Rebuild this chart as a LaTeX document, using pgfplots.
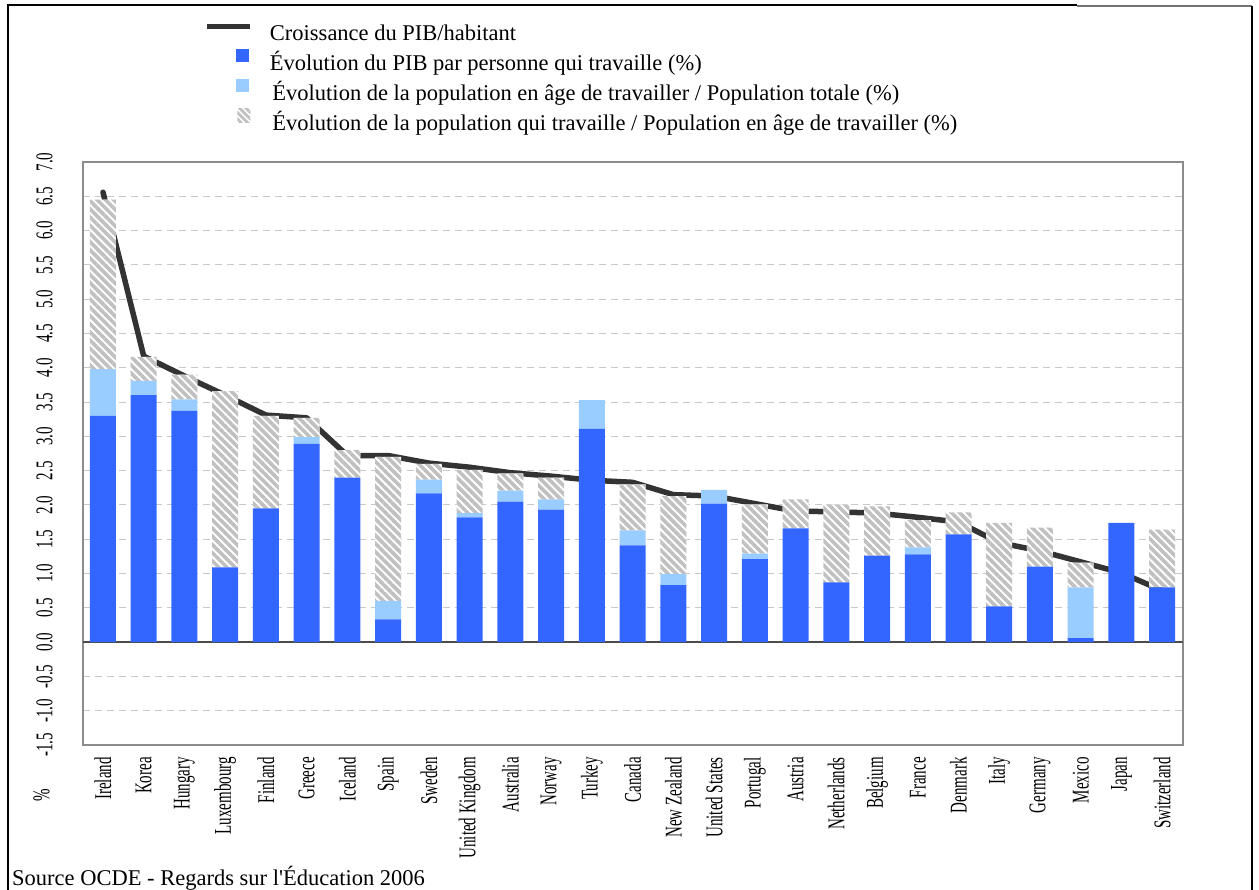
\documentclass[border=0pt]{standalone}
\usepackage{pgfplots}
\pgfplotsset{compat=1.18}
\usepackage{pgfplotstable}
\usetikzlibrary{patterns.meta}
\usepackage{fontspec}
\setmainfont{Liberation Serif}[Ligatures=TeXOff]
\newfontfamily\condfont[FakeStretch=0.625]{Liberation Serif}
\newcommand\tickfont{\condfont\fontsize{24bp}{26bp}\selectfont}
\newcommand\legfont{\fontsize{22.5bp}{27bp}\selectfont}

\definecolor{cBlue}{HTML}{3366FF}
\definecolor{cLight}{HTML}{99CCFF}
\definecolor{cHatch}{HTML}{C0C0C0}
\definecolor{cLine}{HTML}{333333}
\definecolor{cGrid}{HTML}{C8C8C8}
\definecolor{cFrame}{HTML}{8C8C8C}

\pgfplotsset{
  hatch/.style={fill=white, postaction={pattern={Lines[angle=-45,distance=5.8bp,line width=3.6bp]}, pattern color=cHatch}},
  lineleg/.style={legend image code/.code={\path[draw=none, fill=none] (0bp,0bp) -- (43bp,0bp); \draw[##1, line cap=butt] (0bp,6.7bp) -- (43bp,6.7bp);}},
  boxleg/.style={legend image code/.code={\path[draw=none, fill=none] (0bp,0bp) -- (43bp,0bp); \fill[##1, draw=none] (29bp,1.5bp) rectangle (42bp,14.5bp);}},
  hatchleg/.style={legend image code/.code={\path[draw=none, fill=none] (0bp,0bp) -- (43bp,0bp);
    \fill[white, draw=none] (30bp,0.5bp) rectangle (43bp,14.5bp);
    \fill[draw=none, pattern={Lines[angle=-45,distance=4.6bp,line width=2.8bp]}, pattern color=cHatch] (30bp,0.5bp) rectangle (43bp,14.5bp);}},
}

% bp/lp/hp: positive parts (blue, light blue, hatched), ln/hn: negative parts
\pgfplotstableread{
x  bp   lp   hp   ln     hn     gdp
0  3.30 0.68 2.47  0      0     6.56
1  3.60 0.21 0.35  0      0     4.17
2  3.37 0.17 0.36  0      0     3.88
3  1.09 0    2.57 -0.07   0     3.60
4  1.95 0    1.35  0      0     3.31
5  2.89 0.10 0.28  0      0     3.27
6  2.40 0    0.40 -0.09   0     2.72
7  0.33 0.27 2.10  0      0     2.72
8  2.17 0.20 0.23  0      0     2.61
9  1.82 0.06 0.63  0      0     2.55
10 2.05 0.16 0.25  0      0     2.47
11 1.93 0.15 0.32  0      0     2.42
12 3.11 0.42 0     0     -1.13  2.36
13 1.41 0.22 0.67  0      0     2.33
14 0.83 0.16 1.14  0      0     2.15
15 2.02 0.20 0     0     -0.11  2.13
16 1.21 0.08 0.72  0      0     2.02
17 1.66 0    0.42 -0.16   0     1.91
18 0.87 0    1.14 -0.11   0     1.90
19 1.26 0    0.72 -0.10   0     1.88
20 1.28 0.10 0.40  0      0     1.82
21 1.57 0    0.32 -0.14   0     1.75
22 0.52 0    1.22 -0.29   0     1.45
23 1.10 0    0.57 -0.33   0     1.33
24 0.06 0.74 0.36  0      0     1.17
25 1.74 0    0    -0.42  -0.30  1.01
26 0.80 0    0.84 -0.88   0     0.75
}\datatable

\begin{document}
\begin{tikzpicture}
\begin{axis}[
  at={(82.6bp,-745bp)}, anchor=south west,
  scale only axis, width=1100bp, height=583bp,
  ybar stacked, bar width=26bp,
  xmin=-0.5, xmax=26.5, ymin=-1.5, ymax=7,
  xtick={0,...,26},
  xticklabels={Ireland,Korea,Hungary,Luxembourg,Finland,Greece,Iceland,Spain,Sweden,United Kingdom,Australia,Norway,Turkey,Canada,New Zealand,United States,Portugal,Austria,Netherlands,Belgium,France,Denmark,Italy,Germany,Mexico,Japan,Switzerland},
  ytick={-1.5,-1,...,7},
  yticklabels={-1.5,-1.0,-0.5,0.0,0.5,1.0,1.5,2.0,2.5,3.0,3.5,4.0,4.5,5.0,5.5,6.0,6.5,7.0},
  major tick length=0pt,
  ymajorgrids,
  major grid style={draw=cGrid, dash pattern=on 7bp off 5bp, line width=1bp},
  axis line style={draw=cFrame, line width=2bp},
  xticklabel style={yshift=-12bp, rotate=90, anchor=east, inner sep=0pt, font=\tickfont},
  yticklabel style={xshift=-29.6bp, rotate=90, anchor=south, inner sep=0pt, font=\tickfont},
  legend cell align=left,
  legend style={at={(0.11127,1.24700)}, anchor=north west, draw=none, fill=none,
    inner sep=0pt, outer sep=0pt, row sep=0pt, column sep=17bp, font=\legfont,
    nodes={inner sep=0pt, text height=22bp, text depth=8bp}},
]
\addplot[forget plot, draw=none, fill=cBlue] table[x=x, y=bp] {\datatable};
\addplot[forget plot, draw=none, fill=cLight] table[x=x, y=lp] {\datatable};
\addplot[forget plot, draw=none, hatch] table[x=x, y=hp] {\datatable};
\addplot[forget plot, draw=none, fill=none] table[x=x, y expr=-(\thisrow{bp}+\thisrow{lp}+\thisrow{hp})] {\datatable};
\addplot[forget plot, draw=none, fill=cLight] table[x=x, y=ln] {\datatable};
\addplot[forget plot, draw=none, hatch] table[x=x, y=hn] {\datatable};
\draw[black!70, line width=1.3bp] (axis cs:-0.5,0) -- (axis cs:26.5,0);
\addplot[forget plot, sharp plot, stack plots=false, color=cLine, line width=5.5bp, line join=round, line cap=round] table[x=x, y=gdp] {\datatable};

\addlegendimage{lineleg, color=cLine, line width=5bp}
\addlegendentry{Croissance du PIB/habitant}
\addlegendimage{boxleg, fill=cBlue}
\addlegendentry{Évolution du PIB par personne qui travaille (\%)}
\addlegendimage{boxleg, fill=cLight}
\addlegendentry{\hspace{2.5bp}Évolution de la population en âge de travailler / Population totale (\%)}
\addlegendimage{hatchleg}
\addlegendentry{\hspace{2.5bp}Évolution de la population qui travaille / Population en âge de travailler (\%)}
\end{axis}

\draw[black, line width=2bp] (8bp,-890bp) -- (8bp,-5bp) -- (1077bp,-5bp);
\draw[black!55, line width=1.2bp] (1077bp,-6bp) -- (1252bp,-6bp);
\draw[black, line width=1.5bp] (1252bp,-6bp) -- (1252bp,-890bp);
\node[rotate=90, font=\tickfont, inner sep=0pt] at (41.5bp,-795bp) {\%};
\node[anchor=base west, inner sep=0pt, font=\legfont] at (12bp,-885bp) {Source OCDE - Regards sur l'Éducation 2006};

\pgfresetboundingbox
\path[use as bounding box] (0bp,0bp) rectangle (1259bp,-890bp);
\end{tikzpicture}
\end{document}
